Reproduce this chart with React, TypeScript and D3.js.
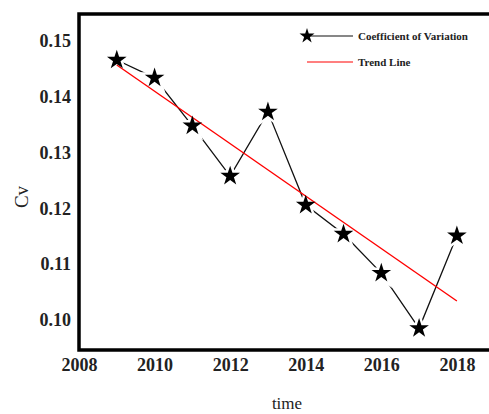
import React, {useEffect, useRef} from "react";
import * as d3 from "d3";

const years = [2009, 2010, 2011, 2012, 2013, 2014, 2015, 2016, 2017, 2018]
const cv = [0.1466, 0.1434, 0.1348, 0.1258, 0.1373, 0.1206, 0.1154, 0.1084, 0.0985, 0.1151]
const trendYears = [2009, 2018]
const trendValues = [0.1457, 0.1034]
const xTicks = [2008, 2010, 2012, 2014, 2016, 2018]
const yTicks = [0.10, 0.11, 0.12, 0.13, 0.14, 0.15]

const W = 489, H = 414
const serif = "'Liberation Serif', 'DejaVu Serif', serif"

const App = () => {
    const ref = useRef<SVGSVGElement>(null)

    useEffect(() => {
        const svg = d3.select(ref.current)
        svg.selectAll("*").remove()

        const x = d3.scaleLinear().domain([2008, 2018.85]).range([79, W])
        const y = d3.scaleLinear().domain([0.09462, 0.15484]).range([350, 14])

        // frame: left, bottom and top lines
        svg.append("path")
            .attr("d", `M${W},14 H79 V350 H${W}`)
            .attr("fill", "none")
            .attr("stroke", "#000")
            .attr("stroke-width", 3.5)

        const xAxis = d3.axisBottom(x).tickValues(xTicks).tickFormat(d3.format("d")).tickSize(0).tickPadding(8)
        const yAxis = d3.axisLeft(y).tickValues(yTicks).tickFormat(d3.format(".2f")).tickSize(0).tickPadding(8)

        const gx = svg.append("g").attr("transform", "translate(0,350)").call(xAxis)
        const gy = svg.append("g").attr("transform", "translate(79,0)").call(yAxis)
        for (const g of [gx, gy]) {
            g.select(".domain").remove()
            g.selectAll("text")
                .attr("font-family", serif)
                .attr("font-weight", "bold")
                .attr("font-size", 18)
                .attr("fill", "#222")
        }

        const pts = years.map((yr, i) => ({x: yr, y: cv[i]}))
        const line = d3.line<{x: number, y: number}>().x(d => x(d.x)).y(d => y(d.y))
        const star = d3.symbol().type(d3.symbolStar).size(120)

        svg.append("path")
            .datum(pts)
            .attr("d", line)
            .attr("fill", "none")
            .attr("stroke", "#111")
            .attr("stroke-width", 1.3)

        // white halo round the stars cuts the black line only
        svg.append("g")
            .selectAll("path")
            .data(pts)
            .join("path")
            .attr("transform", d => `translate(${x(d.x)},${y(d.y)})`)
            .attr("d", star)
            .attr("fill", "#fff")
            .attr("stroke", "#fff")
            .attr("stroke-width", 5)

        svg.append("path")
            .datum(trendYears.map((yr, i) => ({x: yr, y: trendValues[i]})))
            .attr("d", line)
            .attr("fill", "none")
            .attr("stroke", "#f00")
            .attr("stroke-width", 1.4)

        svg.append("g")
            .selectAll("path")
            .data(pts)
            .join("path")
            .attr("transform", d => `translate(${x(d.x)},${y(d.y)})`)
            .attr("d", star)
            .attr("fill", "#000")

        // legend
        const lg = svg.append("g")
        lg.append("line").attr("x1", 307).attr("x2", 353).attr("y1", 36).attr("y2", 36)
            .attr("stroke", "#111").attr("stroke-width", 1.2)
        lg.append("path").attr("transform", "translate(307,36)")
            .attr("d", d3.symbol().type(d3.symbolStar).size(70)).attr("fill", "#000")
        lg.append("text").attr("x", 358).attr("y", 39.5).text("Coefficient of Variation")
            .attr("font-family", serif).attr("font-weight", "bold").attr("font-size", 11).attr("fill", "#222")
        lg.append("line").attr("x1", 307).attr("x2", 353).attr("y1", 62).attr("y2", 62)
            .attr("stroke", "#f55").attr("stroke-width", 1.3)
        lg.append("text").attr("x", 358).attr("y", 65.5).text("Trend Line")
            .attr("font-family", serif).attr("font-weight", "bold").attr("font-size", 11).attr("fill", "#222")

        // axis titles
        svg.append("text")
            .attr("transform", "translate(28,197) rotate(-90)")
            .attr("text-anchor", "middle")
            .attr("font-family", serif)
            .attr("font-size", 19)
            .attr("fill", "#222")
            .text("Cv")

        svg.append("text")
            .attr("x", 287).attr("y", 409)
            .attr("text-anchor", "middle")
            .attr("font-family", serif)
            .attr("font-size", 17)
            .attr("fill", "#222")
            .text("time")
    }, [])

    return (
        <svg ref={ref} width={W} height={H}
             style={{position: "absolute", left: 0, top: 0, background: "#fff"}} />
    )
}

export default App
